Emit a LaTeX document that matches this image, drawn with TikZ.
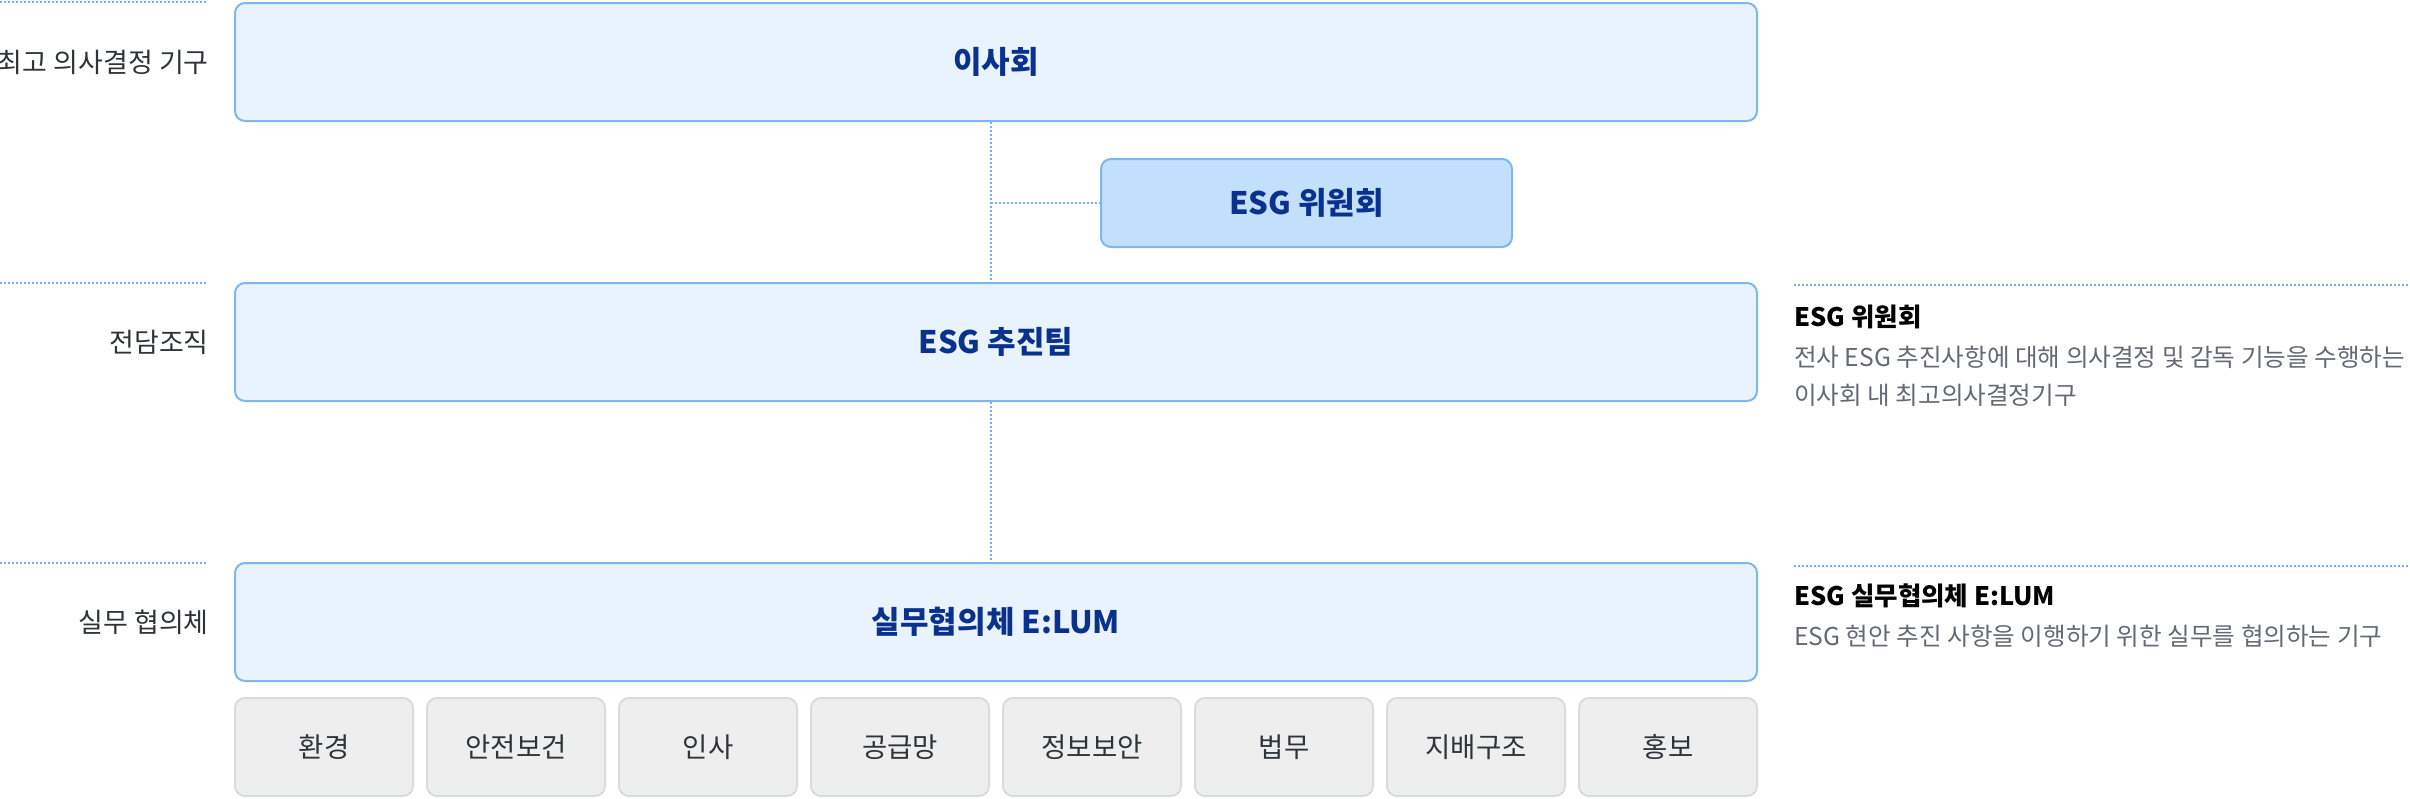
\documentclass[tikz,border=0pt]{standalone}
\usepackage{fontspec}
\setmainfont{Noto Sans CJK KR}
\definecolor{boxfill}{HTML}{E8F3FD}
\definecolor{boxline}{HTML}{7DB7EE}
\definecolor{comfill}{HTML}{C2E0FC}
\definecolor{navy}{HTML}{0B318F}
\definecolor{dotc}{HTML}{74B1EC}
\definecolor{grayfill}{HTML}{EEEEEE}
\definecolor{grayline}{HTML}{D6DDE1}
\definecolor{labc}{HTML}{2F333A}
\definecolor{descc}{HTML}{646973}
\tikzset{
  mainbox/.style={draw=boxline, fill=boxfill, line width=2pt, rounded corners=10pt,
    minimum width=1522pt, minimum height=118pt, inner sep=0pt,
    font=\fontsize{31}{34}\selectfont\bfseries, text=navy},
  combox/.style={mainbox, fill=comfill, minimum width=411pt, minimum height=88pt},
  subbox/.style={draw=grayline, fill=grayfill, line width=2pt, rounded corners=10pt,
    minimum width=178pt, minimum height=98pt, inner sep=0pt,
    font=\fontsize{27.5}{30}\selectfont, text=labc},
  dotline/.style={draw=dotc, line width=2pt, dash pattern=on 2pt off 2pt},
  sidelab/.style={anchor=east, inner sep=0pt, font=\fontsize{27}{30}\selectfont, text=labc},
  rtitle/.style={anchor=west, inner sep=0pt, font=\fontsize{25.5}{28}\selectfont\bfseries, text=black},
  rdesc/.style={anchor=west, inner sep=0pt, font=\fontsize{24.6}{28}\selectfont, text=descc},
}
\begin{document}
\begin{tikzpicture}[x=1pt,y=-1pt]
\useasboundingbox (0,0) rectangle (2410,798);
% main boxes
\node[mainbox] (board) at (996,62) {이사회};
\node[combox] (com) at (1306.5,203) {ESG 위원회};
\node[mainbox] (team) at (996,342) {ESG 추진팀};
\node[mainbox] (elum) at (996,622) {실무협의체 E:LUM};
% sub boxes
\foreach \t [count=\i from 0] in {환경,안전보건,인사,공급망,정보보안,법무,지배구조,홍보}{
  \node[subbox] (sub\i) at ({324+192*\i},747) {\t};
}
% connectors
\draw[dotline] ([xshift=-5pt]board.south) -- ([xshift=-5pt]team.north);
\draw[dotline] ([xshift=-5pt]board.south |- com.west) -- (com.west);
\draw[dotline] ([xshift=-5pt]team.south) -- ([xshift=-5pt]elum.north);
% left labels
\coordinate (l0a) at (0,1.5); \coordinate (l0b) at (207,1.5);
\coordinate (l1a) at (0,283); \coordinate (l1b) at (207,283);
\coordinate (l2a) at (0,563); \coordinate (l2b) at (207,563);
\draw[dotline] (l0a) -- (l0b);
\draw[dotline] (l1a) -- (l1b);
\draw[dotline] (l2a) -- (l2b);
\node[sidelab] (lab0) at (209,62) {최고 의사결정 기구};
\node[sidelab] (lab1) at (209,342) {전담조직};
\node[sidelab] (lab2) at (209,622) {실무 협의체};
% right descriptions
\coordinate (r1a) at (1794,285); \coordinate (r1b) at (2410,285);
\coordinate (r2a) at (1794,566); \coordinate (r2b) at (2410,566);
\draw[dotline] (r1a) -- (r1b);
\draw[dotline] (r2a) -- (r2b);
\node[rtitle] (rt1) at (1794,317) {ESG 위원회};
\node[rdesc] (rd1a) at (1794,357) {전사 ESG 추진사항에 대해 의사결정 및 감독 기능을 수행하는};
\node[rdesc] (rd1b) at (1794,395) {이사회 내 최고의사결정기구};
\node[rtitle] (rt2) at (1794,596) {ESG 실무협의체 E:LUM};
\node[rdesc] (rd2) at (1794,636) {ESG 현안 추진 사항을 이행하기 위한 실무를 협의하는 기구};
\end{tikzpicture}
\end{document}
